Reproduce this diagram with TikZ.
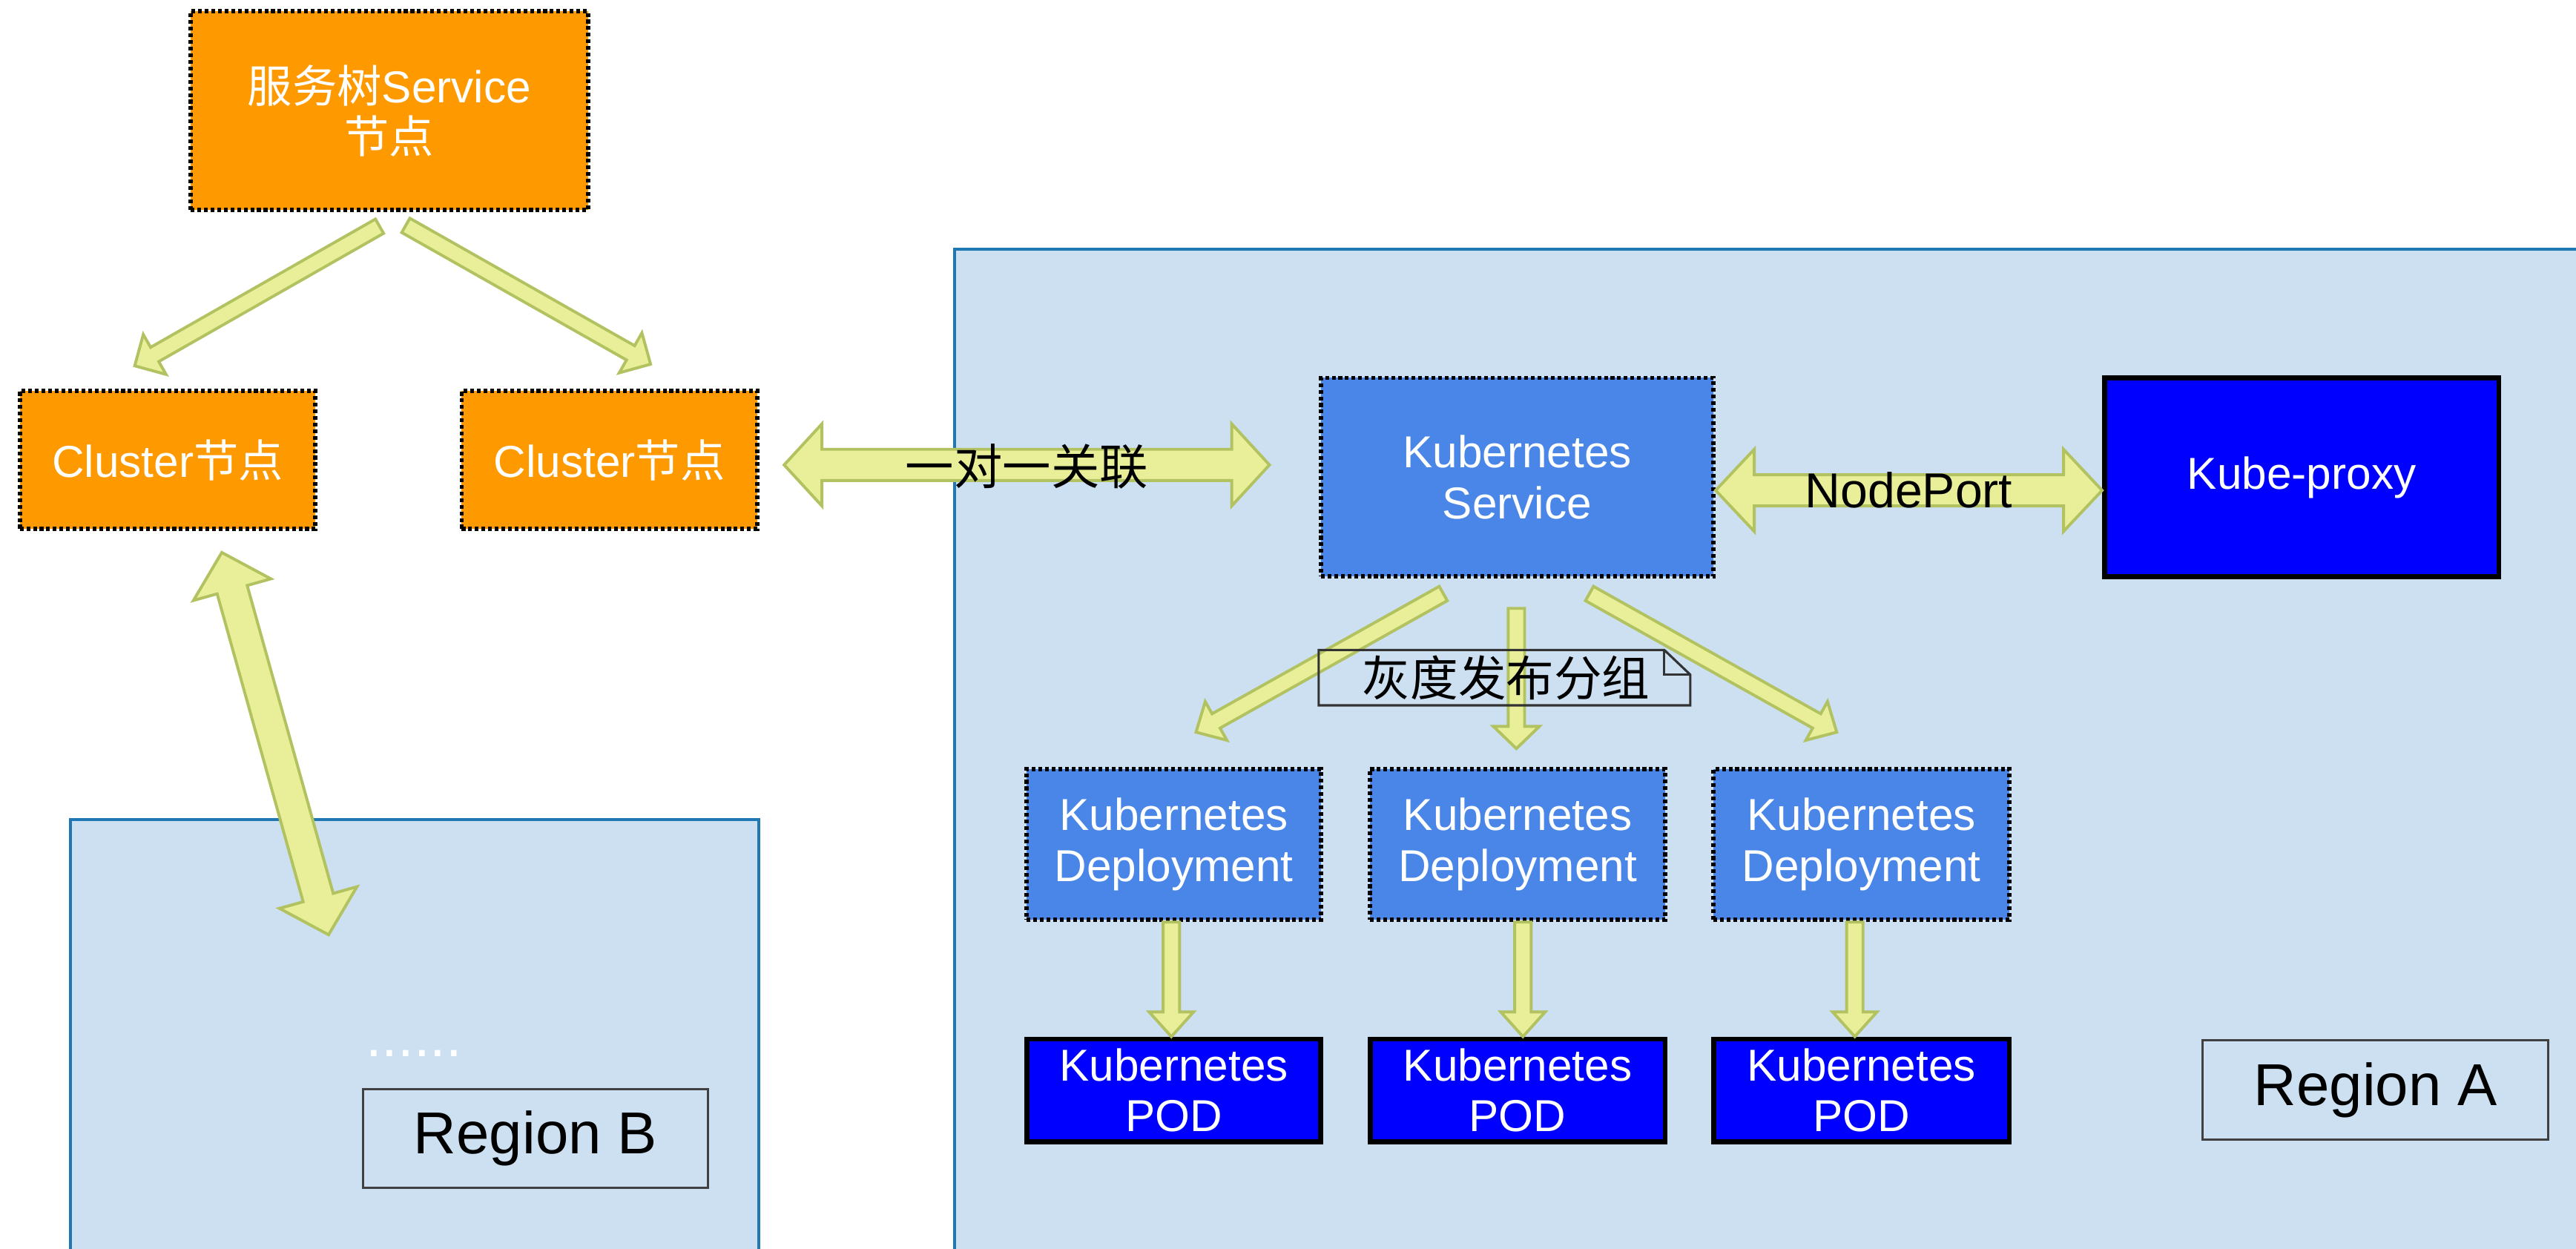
\documentclass[tikz,border=0pt]{standalone}
\usepackage{fontspec}
\setmainfont{Liberation Sans}
\newfontfamily\cjk{Noto Sans CJK SC}
\usetikzlibrary{calc}
\definecolor{orangebox}{RGB}{255,153,0}
\definecolor{svcblue}{RGB}{74,134,232}
\definecolor{podblue}{RGB}{0,0,255}
\definecolor{regionfill}{RGB}{204,224,241}
\definecolor{regionline}{RGB}{31,119,180}
\definecolor{arrowfill}{RGB}{233,239,152}
\definecolor{arrowline}{RGB}{178,194,96}
\tikzset{
  boxtext/.style={text=white, font=\fontsize{15.5}{17.6}\selectfont, align=center, inner sep=0pt},
  dotbox/.style={boxtext, rectangle, draw=black, line width=1.5pt, dash pattern=on 1.3pt off 1.0pt},
  orangenode/.style={dotbox, fill=orangebox},
  svcnode/.style={dotbox, fill=svcblue},
  podnode/.style={boxtext, rectangle, draw=black, line width=1.7pt, fill=podblue},
  regionbox/.style={rectangle, draw=regionline, line width=1pt, fill=regionfill, anchor=north west, inner sep=0pt},
  reglabel/.style={rectangle, draw=black!75, line width=0.8pt, font=\fontsize{20.5}{22}\selectfont, inner sep=0pt},
  fat/.style={draw=arrowline, fill=arrowfill, line width=1pt, line join=miter},
  lbl/.style={font=\fontsize{16.8}{19}\selectfont, inner sep=0pt, text=black},
  notestyle/.style={draw=black!80, line width=0.8pt},
}
% single fat arrow: #1 from, #2 to, #3 half shaft, #4 half head, #5 head length
\newcommand\fatone[5]{%
  \path ($(#2)!#5!(#1)$) coordinate (fh);
  \draw[fat] ($(#1)!#3!90:(#2)$) -- ($(fh)!#3!90:(#2)$) -- ($(fh)!#4!90:(#2)$) -- (#2)
    -- ($(fh)!#4!-90:(#2)$) -- ($(fh)!#3!-90:(#2)$) -- ($(#1)!#3!-90:(#2)$) -- cycle;}
% double fat arrow
\newcommand\fattwo[5]{%
  \path ($(#1)!#5!(#2)$) coordinate (fha) ($(#2)!#5!(#1)$) coordinate (fhb);
  \draw[fat] (#1) -- ($(fha)!#4!90:(#2)$) -- ($(fha)!#3!90:(#2)$) -- ($(fhb)!#3!90:(#2)$)
    -- ($(fhb)!#4!90:(#2)$) -- (#2) -- ($(fhb)!#4!-90:(#2)$) -- ($(fhb)!#3!-90:(#2)$)
    -- ($(fha)!#3!-90:(#2)$) -- ($(fha)!#4!-90:(#2)$) -- cycle;}
\begin{document}
\begin{tikzpicture}[x=0.02cm, y=-0.02cm]
\useasboundingbox (0,0) rectangle (1568,760);
\clip (0,0) rectangle (1568,760);
% regions
\node[regionbox, minimum width=19.88cm, minimum height=12.3cm] (regA) at (580,151) {};
\node[regionbox, minimum width=8.38cm, minimum height=5.4cm] (regB) at (42,498) {};
\node[reglabel, minimum width=4.21cm, minimum height=1.21cm] (labA) at (1446,663.6) {Region A};
\node[reglabel, minimum width=4.2cm, minimum height=1.2cm] (labB) at (326,693) {Region B};
\node[text=white, font=\fontsize{20}{22}\selectfont, inner sep=0pt, anchor=base] (dots) at (252,643) {......};
% orange nodes
\node[orangenode, minimum width=4.84cm, minimum height=2.42cm] (top) at (237,67.4) {{\cjk 服务树}Service\\{\cjk 节点}};
\node[orangenode, minimum width=3.6cm, minimum height=1.68cm] (cl1) at (102,280) {Cluster{\cjk 节点}};
\node[orangenode, minimum width=3.6cm, minimum height=1.68cm] (cl2) at (371,280) {Cluster{\cjk 节点}};
% kubernetes nodes
\node[svcnode, minimum width=4.78cm, minimum height=2.42cm] (ksvc) at (923.5,290.5) {Kubernetes\\Service};
\node[podnode, minimum width=4.8cm, minimum height=2.42cm] (kproxy) at (1401,290.5) {Kube-proxy};
\node[svcnode, minimum width=3.58cm, minimum height=1.84cm] (dep1) at (714.5,514) {Kubernetes\\Deployment};
\node[svcnode, minimum width=3.59cm, minimum height=1.84cm] (dep2) at (923.75,514) {Kubernetes\\Deployment};
\node[svcnode, minimum width=3.6cm, minimum height=1.84cm] (dep3) at (1133,514) {Kubernetes\\Deployment};
\node[podnode, minimum width=3.58cm, minimum height=1.25cm] (pod1) at (714.5,663.75) {Kubernetes\\POD};
\node[podnode, minimum width=3.59cm, minimum height=1.25cm] (pod2) at (923.75,663.75) {Kubernetes\\POD};
\node[podnode, minimum width=3.6cm, minimum height=1.25cm] (pod3) at (1133,663.75) {Kubernetes\\POD};
% connector end points
\coordinate (a1) at ($(top.south)+(-6,8.5)$);
\coordinate (a2) at ($(cl1.north)+(-20,-14)$);
\coordinate (b1) at ($(top.south)+(10,8)$);
\coordinate (b2) at ($(cl2.north)+(25,-15)$);
\coordinate (c1) at ($(cl1.south)+(33,13)$);
\coordinate (c2) at ($(regB.north west)+(158,71)$);
\coordinate (d1) at ($(cl2.east)+(15,3)$);
\coordinate (d2) at ($(ksvc.west)+(-30,-7.5)$);
\coordinate (e1) at ($(ksvc.east)+(0,8)$);
\coordinate (e2) at ($(kproxy.west)+(0,8)$);
\coordinate (f1s) at ($(ksvc.south)+(-45,9)$);
\coordinate (f1e) at ($(dep1.north)+(13.5,-21)$);
\coordinate (f2s) at ($(ksvc.south)+(-0.5,18)$);
\coordinate (f2e) at ($(dep2.north)+(-0.75,-11)$);
\coordinate (f3s) at ($(ksvc.south)+(44,9)$);
\coordinate (f3e) at ($(dep3.north)+(-15,-21)$);
\coordinate (g1s) at ($(dep1.south)+(-1.5,0)$);
\coordinate (g1e) at ($(pod1.north)+(-1.5,0)$);
\coordinate (g2s) at ($(dep2.south)+(3.25,0)$);
\coordinate (g2e) at ($(pod2.north)+(3.25,0)$);
\coordinate (g3s) at ($(dep3.south)+(-4,0)$);
\coordinate (g3e) at ($(pod3.north)+(-4,0)$);
% fat arrows
\fatone{a1}{a2}{0.1cm}{0.28cm}{0.28cm}
\fatone{b1}{b2}{0.1cm}{0.28cm}{0.28cm}
\fattwo{c1}{c2}{0.19cm}{0.49cm}{0.47cm}
\fattwo{d1}{d2}{0.19cm}{0.5cm}{0.46cm}
\fattwo{e1}{e2}{0.19cm}{0.5cm}{0.47cm}
\fatone{f1s}{f1e}{0.1cm}{0.27cm}{0.28cm}
\fatone{f2s}{f2e}{0.1cm}{0.28cm}{0.27cm}
\fatone{f3s}{f3e}{0.1cm}{0.27cm}{0.28cm}
\fatone{g1s}{g1e}{0.1cm}{0.27cm}{0.3cm}
\fatone{g2s}{g2e}{0.1cm}{0.27cm}{0.3cm}
\fatone{g3s}{g3e}{0.1cm}{0.27cm}{0.3cm}
% labels on arrows
\node[lbl] (one2one) at ($(d1)!0.5!(d2)+(0,1)$) {\cjk 一对一关联};
\node[lbl, font=\fontsize{17}{19}\selectfont] (nodeport) at ($(e1)!0.5!(e2)$) {NodePort};
% note
\node[inner sep=0pt, minimum width=4.51cm, minimum height=0.66cm] (note) at (915.75,412.5) {};
\node[lbl, font=\fontsize{16.6}{19}\selectfont] (notetext) at (916.8,412.5) {\cjk 灰度发布分组};
\draw[notestyle] (note.north west) -- ($(note.north east)+(-15.8,0)$) -- ($(note.north east)+(0,15)$)
  -- (note.south east) -- (note.south west) -- cycle;
\draw[notestyle] ($(note.north east)+(-15.8,0)$) -- ($(note.north east)+(-15.8,15)$) -- ($(note.north east)+(0,15)$);
\end{tikzpicture}
\end{document}
